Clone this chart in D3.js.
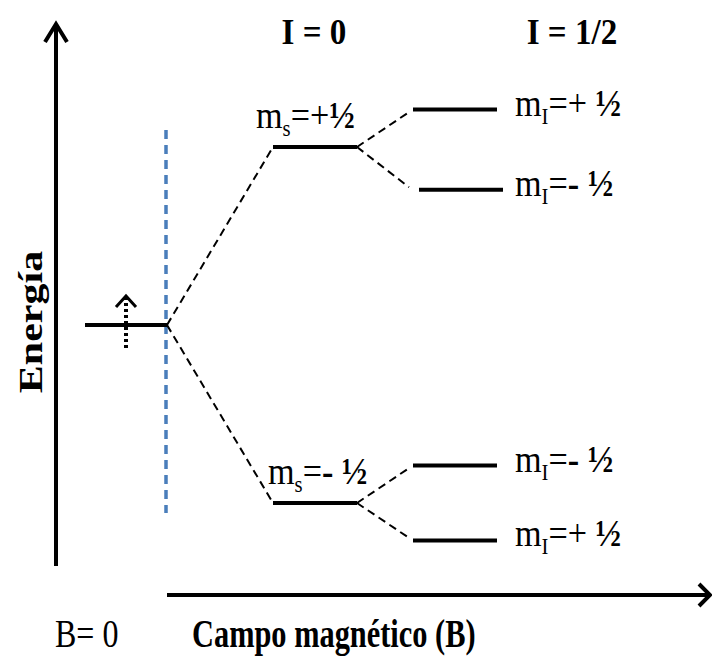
<!DOCTYPE html>
<html>
<head>
<meta charset="utf-8">
<script src="https://cdn.jsdelivr.net/npm/d3@7"></script>
<style>
  body { margin: 0; background: #fff; }
  svg { display: block; }
</style>
</head>
<body>
<div id="chart"></div>
<script>
// energy levels, arbitrary units (ground state at 0)
const groundEnergy = 0;
const msEnergy = [1, -1];
const msLabels = ["+½", "- ½"];
const mIEnergy = [[1.21, 0.76], [-0.79, -1.21]];
const mILabels = [["+ ½", "- ½"], ["- ½", "+ ½"]];
const headers = ["I = 0", "I = 1/2"];

let w = 712,
    h = 656;

let serif = "'Liberation Serif', 'Times New Roman', serif";

// energy -> pixel
let y = d3.scaleLinear()
          .domain([-1, 1])
          .range([503, 147]);

// column extents: B = 0, I = 0, I = 1/2
let col = {
  b0: [85, 167],
  i0: [273, 357],
  i12: [413, 497]
};

let svg = d3.select("#chart")
            .append("svg")
            .attr("width", w)
            .attr("height", h);

// axes with open arrow heads
function chevron(pts, width) {
  svg.append("path")
     .attr("d", d3.line()(pts))
     .attr("fill", "none")
     .attr("stroke", "#000")
     .attr("stroke-width", width)
     .attr("stroke-linejoin", "miter");
}

svg.append("line")
   .attr("x1", 56).attr("y1", 566)
   .attr("x2", 56).attr("y2", 25)
   .attr("stroke", "#000")
   .attr("stroke-width", 4);
chevron([[45, 42], [56, 24], [67, 42]], 4);

svg.append("line")
   .attr("x1", 167).attr("y1", 595)
   .attr("x2", 709).attr("y2", 595)
   .attr("stroke", "#000")
   .attr("stroke-width", 4);
chevron([[699, 584], [710, 595], [699, 606]], 4);

// blue dashed marker at B = 0
svg.append("line")
   .attr("x1", 166).attr("y1", 130)
   .attr("x2", 166).attr("y2", 513)
   .attr("stroke", "#4a7ebb")
   .attr("stroke-width", 3.5)
   .attr("stroke-dasharray", "9,6");

// dashed connectors
function dashed(x1, y1, x2, y2) {
  svg.append("line")
     .attr("x1", x1).attr("y1", y1)
     .attr("x2", x2).attr("y2", y2)
     .attr("stroke", "#000")
     .attr("stroke-width", 2)
     .attr("stroke-dasharray", "8,5");
}

msEnergy.forEach((e, i) => {
  dashed(col.b0[1], y(groundEnergy), col.i0[0], y(e));
  mIEnergy[i].forEach(f => {
    dashed(col.i0[1], y(e), col.i12[0] - 4, y(f) + (f > e ? 2.5 : -2.5));
  });
});

// level bars
function level(x0, x1, e) {
  svg.append("line")
     .attr("x1", x0).attr("y1", y(e))
     .attr("x2", x1).attr("y2", y(e))
     .attr("stroke", "#000")
     .attr("stroke-width", 4);
}

level(col.b0[0], col.b0[1], groundEnergy);
msEnergy.forEach((e, i) => {
  level(col.i0[0], col.i0[1], e);
  mIEnergy[i].forEach((f, j) => {
    let shift = (i == 0 && j == 1) ? 6 : 0;
    level(col.i12[0] + shift, col.i12[1] + shift, f);
  });
});

// dotted electron spin arrow on the ground level
svg.append("line")
   .attr("x1", 126).attr("y1", 348)
   .attr("x2", 126).attr("y2", 298)
   .attr("stroke", "#000")
   .attr("stroke-width", 4)
   .attr("stroke-dasharray", "3,3");
chevron([[116, 307], [126, 296], [136, 307]], 3);

// text helpers (text in the picture is a bit narrow, hence the x squeeze)
function text(x, yy, size, weight, squeeze) {
  return svg.append("text")
            .attr("transform", "translate(" + x + "," + yy + ") scale(" + squeeze + ",1)")
            .attr("font-family", serif)
            .attr("font-size", size)
            .attr("font-weight", weight);
}

function mLabel(x, yy, sub, value) {
  let t = text(x, yy, 38, "normal", 0.9);
  t.append("tspan").text("m");
  t.append("tspan").attr("font-size", 23).attr("dy", 8).text(sub);
  t.append("tspan").attr("dy", -8).text("=");
  let sign = value[0];
  let rest = value.slice(1);
  t.append("tspan")
   .attr("font-weight", sign == "-" ? "bold" : "normal")
   .text(sign);
  t.append("tspan").attr("font-weight", "bold").text(rest);
}

msEnergy.forEach((e, i) => {
  mLabel(i == 0 ? 256 : 268, y(e) - 19, "s", msLabels[i]);
  mIEnergy[i].forEach((f, j) => {
    mLabel(515, y(f) + 6, "I", mILabels[i][j]);
  });
});

// column headers
[314, 572].forEach((cx, i) => {
  text(cx, 44, 36, "bold", 0.92)
    .attr("text-anchor", "middle")
    .text(headers[i]);
});

// axis titles
text(55, 647, 40, "normal", 0.8).text("B= 0");
text(192, 647, 40, "bold", 0.76).text("Campo magnético (B)");

svg.append("text")
   .attr("transform", "translate(42,322) rotate(-90) scale(1,0.82)")
   .attr("text-anchor", "middle")
   .attr("font-family", serif)
   .attr("font-size", 42)
   .attr("font-weight", "bold")
   .text("Energía");
</script>
</body>
</html>
